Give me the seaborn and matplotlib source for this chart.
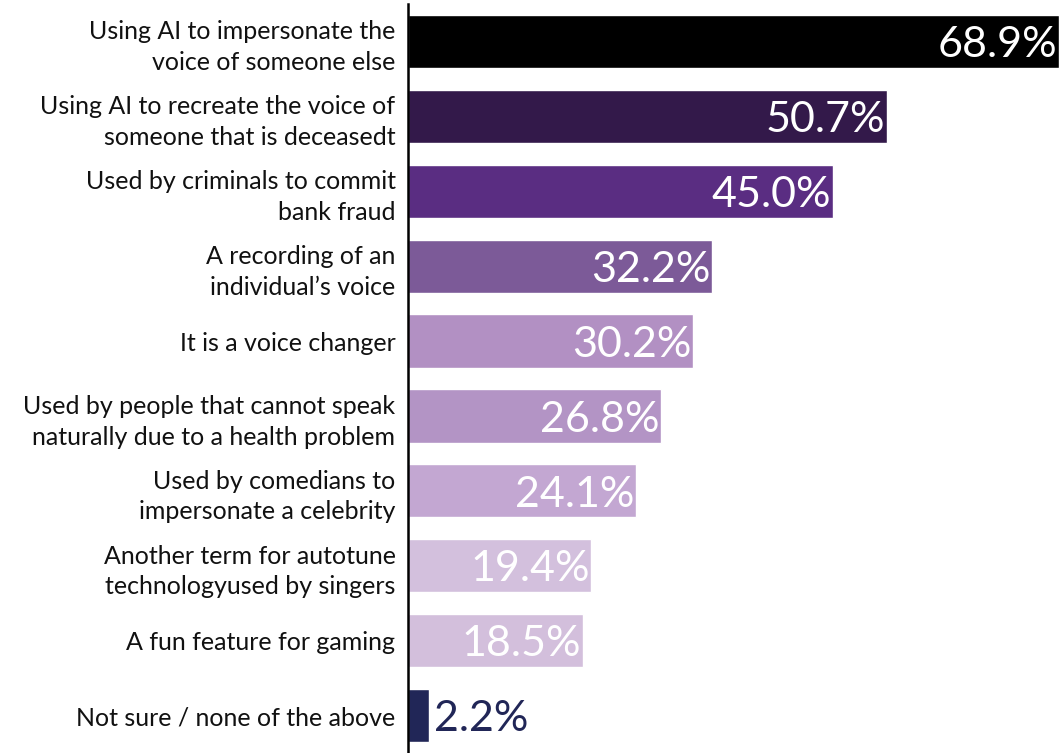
import matplotlib
matplotlib.use("Agg")
import matplotlib.pyplot as plt
import seaborn as sns
import pandas as pd

categories = [
    "Using AI to impersonate the\nvoice of someone else",
    "Using AI to recreate the voice of\nsomeone that is deceasedt",
    "Used by criminals to commit\nbank fraud",
    "A recording of an\nindividual\u2019s voice",
    "It is a voice changer",
    "Used by people that cannot speak\nnaturally due to a health problem",
    "Used by comedians to\nimpersonate a celebrity",
    "Another term for autotune\ntechnologyused by singers",
    "A fun feature for gaming",
    "Not sure / none of the above",
]
values = [68.9, 50.7, 45.0, 32.2, 30.2, 26.8, 24.1, 19.4, 18.5, 2.2]
colors = ["#000000", "#33194a", "#5a2d82", "#7c5a98", "#b290c3",
          "#b394c5", "#c3a7d2", "#d3c0dd", "#d3bfdc", "#212657"]

sns.set_theme(style="white")
plt.rcParams["font.family"] = ["Lato", "DejaVu Sans"]

df = pd.DataFrame({"category": categories, "value": values})

fig = plt.figure(figsize=(10.63, 7.53), dpi=100)
ax = fig.add_axes([408 / 1063, 0.0, 1 - 408 / 1063, 749 / 753])

sns.barplot(data=df, x="value", y="category", hue="category",
            palette=colors, order=categories, hue_order=categories,
            legend=False, width=0.71, saturation=1, ax=ax)

ax.set_xlim(0, 69.3)
ax.set_ylim(9.5, -0.5)
ax.set_xlabel("")
ax.set_ylabel("")
ax.set_xticks([])
ax.tick_params(axis="y", length=0, pad=9, labelsize=18, labelcolor="#111111")
for lbl in ax.get_yticklabels():
    lbl.set_horizontalalignment("right")
    lbl.set_multialignment("right")
    lbl.set_linespacing(1.4)

for side in ["top", "right", "bottom"]:
    ax.spines[side].set_visible(False)
ax.spines["left"].set_color("#000000")
ax.spines["left"].set_linewidth(1.8)

for i, v in enumerate(values):
    txt = f"{v:.1f}%"
    if v > 10:
        ax.text(v - 0.2, i + 0.05, txt, ha="right", va="center",
                color="white", fontsize=31)
    else:
        ax.text(v + 0.5, i + 0.05, txt, ha="left", va="center",
                color=colors[i], fontsize=31)

fig.savefig("out.png", dpi=100)
